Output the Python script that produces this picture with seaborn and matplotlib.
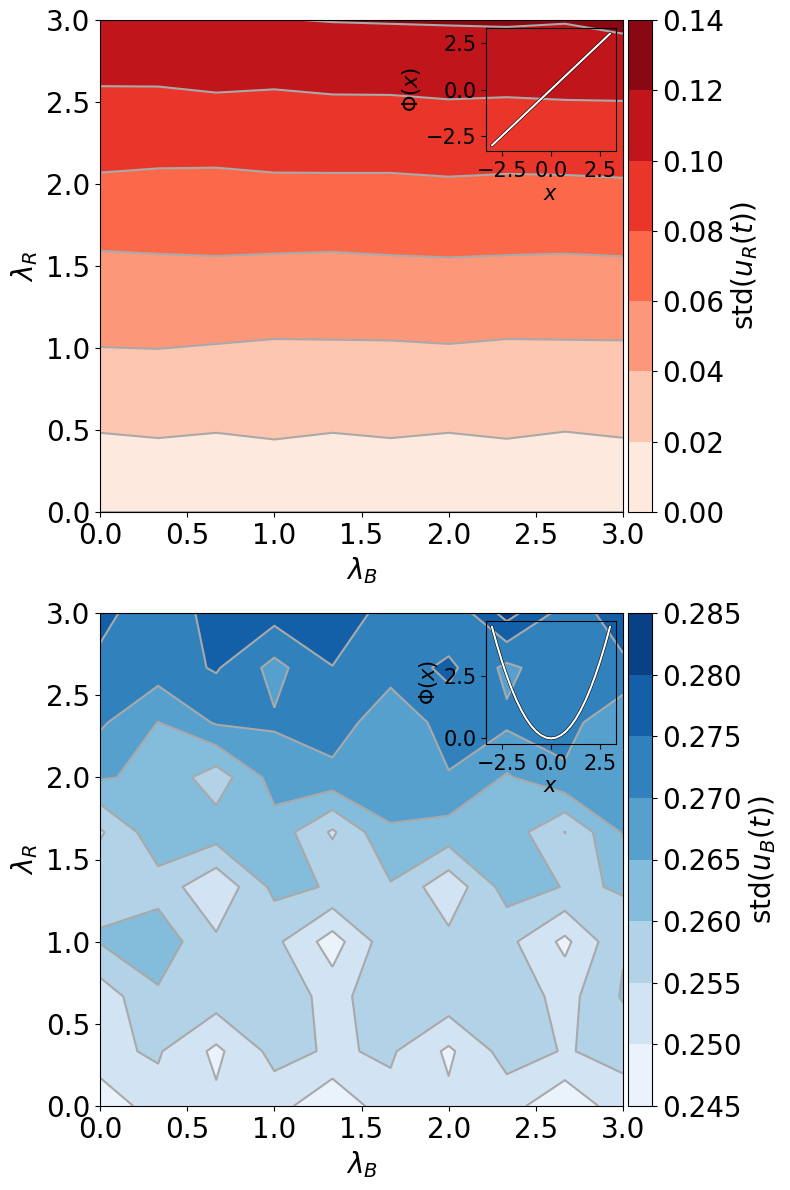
import numpy as np
import matplotlib
matplotlib.use("Agg")
import matplotlib.pyplot as plt
from matplotlib.ticker import FormatStrFormatter
import seaborn as sns

# ---------------- data ----------------
lam_B = [0.0, 1/3, 2/3, 1.0, 4/3, 5/3, 2.0, 7/3, 8/3, 3.0]
lam_R = [0.0, 1/3, 2/3, 1.0, 4/3, 5/3, 2.0, 7/3, 8/3, 3.0]

# rows: lambda_R ascending, columns: lambda_B ascending
std_uR = [
    [0.0000, 0.0000, 0.0000, 0.0000, 0.0000, 0.0000, 0.0000, 0.0000, 0.0000, 0.0000],
    [0.0143, 0.0162, 0.0143, 0.0166, 0.0143, 0.0162, 0.0143, 0.0164, 0.0138, 0.0161],
    [0.0270, 0.0270, 0.0270, 0.0270, 0.0270, 0.0270, 0.0270, 0.0270, 0.0270, 0.0270],
    [0.0398, 0.0402, 0.0391, 0.0378, 0.0380, 0.0382, 0.0391, 0.0378, 0.0380, 0.0382],
    [0.0512, 0.0512, 0.0512, 0.0512, 0.0512, 0.0512, 0.0512, 0.0512, 0.0512, 0.0512],
    [0.0625, 0.0634, 0.0641, 0.0633, 0.0628, 0.0638, 0.0646, 0.0638, 0.0633, 0.0642],
    [0.0771, 0.0756, 0.0753, 0.0771, 0.0772, 0.0772, 0.0783, 0.0775, 0.0778, 0.0786],
    [0.0910, 0.0910, 0.0910, 0.0910, 0.0910, 0.0910, 0.0910, 0.0910, 0.0910, 0.0910],
    [0.1024, 0.1025, 0.1044, 0.1033, 0.1051, 0.1053, 0.1074, 0.1063, 0.1077, 0.1083],
    [0.1185, 0.1188, 0.1190, 0.1194, 0.1206, 0.1211, 0.1214, 0.1220, 0.1209, 0.1239],
]

std_uB = [
    [0.2456, 0.2533, 0.2510, 0.2522, 0.2456, 0.2534, 0.2511, 0.2521, 0.2458, 0.2531],
    [0.2541, 0.2555, 0.2489, 0.2566, 0.2544, 0.2557, 0.2491, 0.2571, 0.2547, 0.2563],
    [0.2522, 0.2592, 0.2577, 0.2591, 0.2527, 0.2595, 0.2583, 0.2585, 0.2531, 0.2605],
    [0.2603, 0.2630, 0.2559, 0.2562, 0.2477, 0.2584, 0.2564, 0.2564, 0.2488, 0.2595],
    [0.2591, 0.2580, 0.2509, 0.2613, 0.2596, 0.2595, 0.2515, 0.2621, 0.2598, 0.2601],
    [0.2543, 0.2633, 0.2626, 0.2631, 0.2543, 0.2645, 0.2630, 0.2630, 0.2549, 0.2655],
    [0.2655, 0.2638, 0.2573, 0.2670, 0.2684, 0.2675, 0.2697, 0.2645, 0.2690, 0.2680],
    [0.2708, 0.2649, 0.2705, 0.2706, 0.2728, 0.2665, 0.2720, 0.2709, 0.2721, 0.2655],
    [0.2738, 0.2725, 0.2755, 0.2684, 0.2749, 0.2720, 0.2762, 0.2688, 0.2735, 0.2743],
    [0.2765, 0.2718, 0.2768, 0.2770, 0.2775, 0.2735, 0.2705, 0.2820, 0.2729, 0.2769],
]

levels_R = [0.00, 0.02, 0.04, 0.06, 0.08, 0.10, 0.12, 0.14]
levels_B = [0.245, 0.250, 0.255, 0.260, 0.265, 0.270, 0.275, 0.280, 0.285]
main_ticks = [0.0, 0.5, 1.0, 1.5, 2.0, 2.5, 3.0]

# inset potentials Phi(x)
phi_x = [-3.0, -2.75, -2.5, -2.25, -2.0, -1.75, -1.5, -1.25, -1.0, -0.75, -0.5, -0.25, 0.0,
         0.25, 0.5, 0.75, 1.0, 1.25, 1.5, 1.75, 2.0, 2.25, 2.5, 2.75, 3.0]
phi_R = [-3.0, -2.75, -2.5, -2.25, -2.0, -1.75, -1.5, -1.25, -1.0, -0.75, -0.5, -0.25, 0.0,
         0.25, 0.5, 0.75, 1.0, 1.25, 1.5, 1.75, 2.0, 2.25, 2.5, 2.75, 3.0]
phi_B = [4.5, 3.78125, 3.125, 2.53125, 2.0, 1.53125, 1.125, 0.78125, 0.5, 0.28125, 0.125, 0.03125, 0.0,
         0.03125, 0.125, 0.28125, 0.5, 0.78125, 1.125, 1.53125, 2.0, 2.53125, 3.125, 3.78125, 4.5]

# ---------------- style ----------------
sns.set_style("ticks", {"axes.edgecolor": "black", "xtick.color": "black", "ytick.color": "black",
                        "text.color": "black", "axes.labelcolor": "black"})
plt.rcParams["font.family"] = ["DejaVu Sans"]
plt.rcParams["mathtext.fontset"] = "dejavusans"
plt.rcParams["axes.linewidth"] = 0.8
for k in ["xtick", "ytick"]:
    plt.rcParams[f"{k}.major.width"] = 0.8
    plt.rcParams[f"{k}.major.size"] = 3.5
    plt.rcParams[f"{k}.direction"] = "out"

W, H = 790, 1190
fig = plt.figure(figsize=(W / 100, H / 100), dpi=100)


def rect(x0, y0, x1, y1):
    return [x0 / W, 1 - y1 / H, (x1 - x0) / W, (y1 - y0) / H]


def panel(ax_px, cax_px, ins_px, Z, levels, cmap, cb_label, cb_fmt, phi, ins_yticks):
    ax = fig.add_axes(rect(*ax_px))
    Zarr = np.array(Z)
    cs = ax.contourf(lam_B, lam_R, Zarr, levels=levels, cmap=cmap)
    ax.contour(lam_B, lam_R, Zarr, levels=levels, colors="darkgray", linewidths=1.5)
    ax.set_xlim(0, 3)
    ax.set_ylim(0, 3)
    ax.set_xticks(main_ticks)
    ax.set_yticks(main_ticks)
    ax.tick_params(labelsize=20)
    ax.set_xlabel(r"$\lambda_B$", fontsize=20)
    ax.set_ylabel(r"$\lambda_R$", fontsize=20)
    for s in ax.spines.values():
        s.set_visible(True)

    cax = fig.add_axes(rect(*cax_px))
    cb = fig.colorbar(cs, cax=cax)
    cb.set_ticks(levels)
    cb.ax.yaxis.set_major_formatter(FormatStrFormatter(cb_fmt))
    cb.ax.tick_params(labelsize=20)
    cb.set_label(cb_label, fontsize=20)
    cb.outline.set_linewidth(0.8)

    ins = fig.add_axes(rect(*ins_px))
    ins.set_facecolor("none")
    sns.lineplot(x=phi_x, y=phi, ax=ins, color="black", linewidth=2.3)
    sns.lineplot(x=phi_x, y=phi, ax=ins, color="white", linewidth=1.5)
    ins.set_xticks([-2.5, 0.0, 2.5])
    ins.set_yticks(ins_yticks)
    ins.tick_params(labelsize=15)
    ins.set_xlabel(r"$x$", fontsize=15, labelpad=2)
    ins.set_ylabel(r"$\Phi(x)$", fontsize=15, labelpad=2)
    for s in ins.spines.values():
        s.set_visible(True)
        s.set_color("black")
    return ax


panel((100, 20, 623, 512), (628, 20, 652, 512), (486, 28, 616, 151),
      std_uR, levels_R, "Reds", r"std$(u_R(t))$", "%.2f", phi_R, [-2.5, 0.0, 2.5])
panel((100, 613, 623, 1106), (628, 613, 652, 1106), (486, 621, 616, 744),
      std_uB, levels_B, "Blues", r"std$(u_B(t))$", "%.3f", phi_B, [0.0, 2.5])

fig.savefig("out.png", dpi=100)
